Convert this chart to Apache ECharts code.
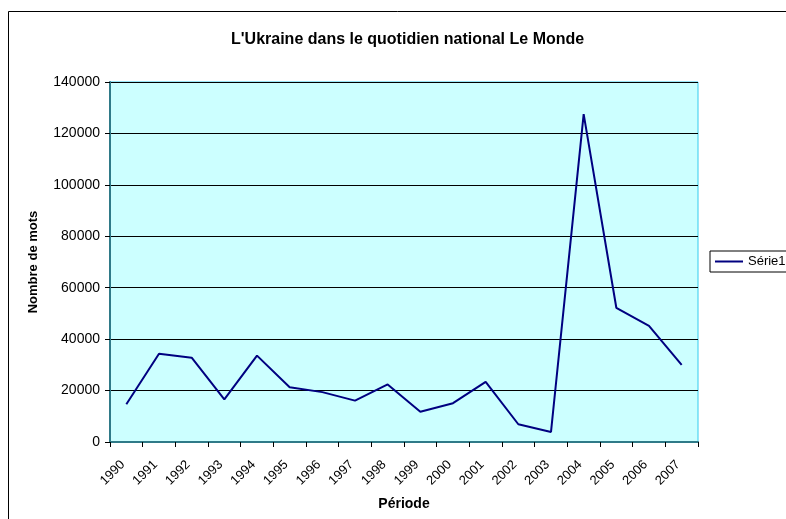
<!DOCTYPE html>
<html>
<head>
<meta charset="utf-8">
<title>L'Ukraine dans le quotidien national Le Monde</title>
<script src="https://cdn.jsdelivr.net/npm/echarts@6/dist/echarts.min.js"></script>
<style>
html, body { margin: 0; padding: 0; background: #fff; }
#main { width: 786px; height: 519px; }
</style>
</head>
<body>
<div id="main"></div>
<script>
// donnees
var annees = ['1990', '1991', '1992', '1993', '1994', '1995', '1996', '1997', '1998',
              '1999', '2000', '2001', '2002', '2003', '2004', '2005', '2006', '2007'];
var nombreMots = [14700, 34300, 32800, 16600, 33600, 21300, 19400, 16100, 22400,
                  11800, 15100, 23400, 6900, 3900, 127500, 52200, 45200, 30000];
var serieNom = 'Série1';

var police = "'Liberation Sans', Arial, sans-serif";
var myChart = echarts.init(document.getElementById('main'));

myChart.setOption({
    animation: false,
    title: {
        text: "L'Ukraine dans le quotidien national Le Monde",
        left: 226,
        top: 27,
        textStyle: { fontFamily: police, fontSize: 16, fontWeight: 'bold', color: '#000' }
    },
    // cadre du graphique
    graphic: [{
        type: 'rect',
        shape: { x: 8.5, y: 11.5, width: 800, height: 520 },
        style: { fill: 'none', stroke: '#000', lineWidth: 1 },
        z: -1
    }],
    legend: {
        data: [{ name: serieNom, icon: 'rect' }],
        left: 710,
        top: 251,
        orient: 'vertical',
        padding: [4, 6, 4, 5],
        itemWidth: 28,
        itemHeight: 2,
        borderColor: '#000',
        borderWidth: 1,
        textStyle: { fontFamily: police, fontSize: 13, color: '#000' }
    },
    grid: {
        left: 110, top: 82, width: 588, height: 360,
        show: true,
        backgroundColor: '#CCFFFF',
        borderColor: '#33CCEE',
        borderWidth: 1
    },
    xAxis: {
        type: 'category',
        data: annees,
        boundaryGap: true,
        name: 'Période',
        nameLocation: 'middle',
        nameGap: 55,
        nameTextStyle: { fontFamily: police, fontSize: 14, fontWeight: 'bold', color: '#000' },
        axisLine: { lineStyle: { color: '#2F7A88', width: 2 } },
        axisTick: { show: true, length: 5, lineStyle: { color: '#000' } },
        axisLabel: {
            rotate: 45,
            margin: 17,
            padding: [0, 5, 0, 0],
            fontFamily: police, fontSize: 13, color: '#000'
        },
        splitLine: { show: false }
    },
    yAxis: {
        type: 'value',
        min: 0,
        max: 140000,
        interval: 20000,
        name: 'Nombre de mots',
        nameLocation: 'middle',
        nameGap: 70,
        nameTextStyle: { fontFamily: police, fontSize: 13, fontWeight: 'bold', color: '#000' },
        axisLine: { show: true, lineStyle: { color: '#2F7A88', width: 2 } },
        axisTick: { show: true, length: 5, lineStyle: { color: '#000' } },
        axisLabel: {
            margin: 10,
            formatter: function (v) { return String(v); },
            fontFamily: police, fontSize: 14, color: '#000'
        },
        splitLine: { show: true, lineStyle: { color: '#000', width: 1 } }
    },
    series: [{
        name: serieNom,
        type: 'line',
        data: nombreMots,
        symbol: 'none',
        lineStyle: { color: '#000080', width: 2 },
        itemStyle: { color: '#000080' }
    }]
});
</script>
</body>
</html>
